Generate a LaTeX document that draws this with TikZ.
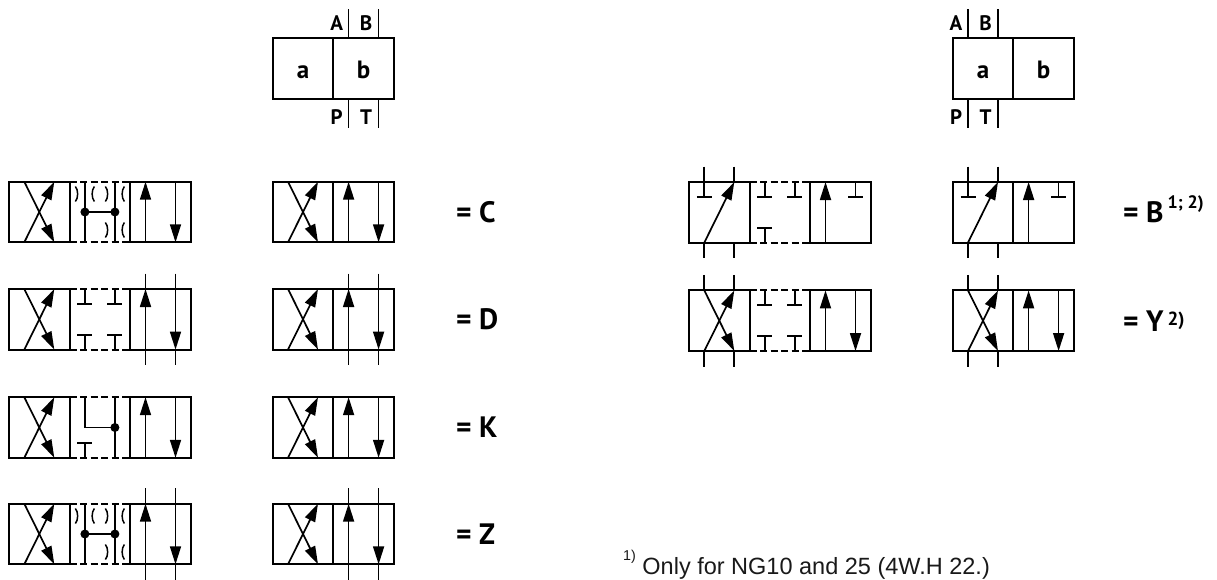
\documentclass[tikz,border=0pt]{standalone}
\usepackage{fontspec}
\setmainfont{PT Sans}
\newfontfamily\notefont{Liberation Sans}
\usetikzlibrary{arrows.meta,positioning}

\begin{document}
\begin{tikzpicture}[x=1pt,y=-1pt,
	cell/.style={draw,line width=2.1pt,minimum width=60.6pt,minimum height=60.6pt,inner sep=0pt,outer sep=0pt},
	gapcell/.style={cell,draw=none},
	cellname/.style={font=\fontsize{25}{25}\selectfont\bfseries,text height=19pt,text depth=0pt},
	dashedge/.style={line width=2.1pt,dash pattern=on 7pt off 3.5pt},
	pipe/.style={line width=1.7pt},
	flow/.style={pipe,-{Triangle[length=18pt,width=11pt]}},
	tag/.style={font=\fontsize{21}{21}\selectfont\bfseries,inner sep=0pt},
	lbl/.style={font=\fontsize{29.5}{29.5}\selectfont\bfseries,inner sep=0pt,anchor=base west},
	note/.style={font=\notefont\fontsize{23.5}{23.5}\selectfont,text=black!90,inner sep=0pt,anchor=base west},
	pics/cross/.style={code={
		\draw[flow] (-15,30.3) -- (15,-30.3);
		\draw[flow] (-15,-30.3) -- (15,30.3);}},
	pics/lanes/.style={code={
		\draw[flow] (-15,30.3) -- (-15,-30.3);
		\draw[flow] (15,-30.3) -- (15,30.3);}},
	pics/slant/.style={code={\draw[flow] (-15,30.3) -- (15,-30.3);}},
	pics/rise/.style={code={\draw[flow] (-15,30.3) -- (-15,-30.3);}},
	pics/stubs/.style={code={
		\draw[pipe] (-15,-45.8) -- (-15,-30.3) (15,-45.8) -- (15,-30.3)
			(-15,30.3) -- (-15,45.8) (15,30.3) -- (15,45.8);}},
	pics/dashes/.style={code={
		\draw[dashedge] (-30.3,-30.3) -- (30.3,-30.3) (-30.3,30.3) -- (30.3,30.3);}},
	pics/plugtop/.style={code={
		\draw[pipe] (#1,-30.3) -- (#1,-15.5) (#1-7.5,-15.5) -- (#1+7.5,-15.5);}},
	pics/plugbot/.style={code={
		\draw[pipe] (#1,30.3) -- (#1,15.5) (#1-7.5,15.5) -- (#1+7.5,15.5);}},
	pics/bridge/.style={code={
		\draw[pipe] (-15,-30.3) -- (-15,30.3) (15,-30.3) -- (15,30.3) (-15,0) -- (15,0);
		\fill (-15,0) circle[radius=4.5] (15,0) circle[radius=4.5];
		\foreach \u/\v in {-15/-18,15/-18,15/18}
			\draw[line width=1.5pt,shift={(\u,\v)}] (-9.5,-7.5) .. controls (-6.5,-4) and (-6.5,4) .. (-9.5,7.5)
				(9.5,-7.5) .. controls (6.5,-4) and (6.5,4) .. (9.5,7.5);}},
	pics/kpath/.style={code={
		\draw[pipe] (-15,-30.3) -- (-15,0) -- (15,0) (15,-30.3) -- (15,30.3);
		\fill (15,0) circle[radius=4.5];}}]
	\useasboundingbox (0,0) rectangle (1217,579);

	% headers
	\node[cell,cellname] (hla) at (303,68.7) {a};
	\node[cell,cellname,right=0pt of hla] (hlb) {b};
	\node[cell,cellname] (hra) at (983,68.7) {a};
	\node[cell,cellname,right=0pt of hra] (hrb) {b};
	\foreach \h in {hlb,hra} {
		\draw[pipe] ([xshift=-15pt]\h.north) -- ++(0,-29.3) ([xshift=15pt]\h.north) -- ++(0,-29.3);
		\draw[pipe] ([xshift=-15pt]\h.south) -- ++(0,29) ([xshift=15pt]\h.south) -- ++(0,29);
		\node[tag] (\h-A) at ([xshift=-27pt,yshift=15.7pt]\h.north) {A};
		\node[tag] (\h-B) at ([xshift=2.5pt,yshift=15.7pt]\h.north) {B};
		\node[tag] (\h-P) at ([xshift=-27pt,yshift=-18pt]\h.south) {P};
		\node[tag] (\h-T) at ([xshift=2.5pt,yshift=-18pt]\h.south) {T};
	}

	% left: 3 and 2 positions
	\foreach \r/\y in {C/212,D/319.3,K/427.5,Z/534} {
		\node[cell] (\r3a) at (39.3,\y) {};
		\node[gapcell,right=0pt of \r3a] (\r30) {};
		\node[cell,right=0pt of \r30] (\r3b) {};
		\node[cell] (\r2a) at (303,\y) {};
		\node[cell,right=0pt of \r2a] (\r2b) {};
		\node[lbl] (eq\r) at (456,\y+10) {= \r};
		\pic at (\r3a) {cross};
		\pic at (\r30) {dashes};
		\pic at (\r3b) {lanes};
		\pic at (\r2a) {cross};
		\pic at (\r2b) {lanes};
	}
	\foreach \r in {C,Z}
		\pic at (\r30) {bridge};
	\pic at (K30) {kpath};
	\pic at (K30) {plugbot=-15};

	% right: 3 and 2 positions
	\foreach \r/\y in {B/212.3,Y/320.7} {
		\node[cell] (\r3a) at (719.3,\y) {};
		\node[gapcell,right=0pt of \r3a] (\r30) {};
		\node[cell,right=0pt of \r30] (\r3b) {};
		\node[cell] (\r2a) at (983,\y) {};
		\node[cell,right=0pt of \r2a] (\r2b) {};
		\pic at (\r30) {dashes};
	}
	\foreach \n in {B3a,B2a} {
		\pic at (\n) {slant};
		\pic at (\n) {plugtop=-15};
	}
	\foreach \n in {B3b,B2b} {
		\pic at (\n) {rise};
		\pic at (\n) {plugtop=15};
	}
	\pic at (B30) {plugtop=-15};
	\pic at (B30) {plugtop=15};
	\pic at (B30) {plugbot=-15};
	\pic at (Y3a) {cross};
	\pic at (Y2a) {cross};
	\pic at (Y3b) {lanes};
	\pic at (Y2b) {lanes};
	\foreach \u in {-15,15} {
		\pic at (D30) {plugtop=\u};
		\pic at (D30) {plugbot=\u};
		\pic at (Y30) {plugtop=\u};
		\pic at (Y30) {plugbot=\u};
	}
	\foreach \n in {D3b,D2b,Z3b,Z2b,B3a,B2a,Y3a,Y2a}
		\pic at (\n) {stubs};

	\node[lbl] (eqB) at (1123,222.3) {= B\hspace{4pt}\raisebox{13.5pt}{\fontsize{18}{18}\selectfont 1; 2)}};
	\node[lbl] (eqY) at (1123,331.5) {= Y\hspace{4pt}\raisebox{6.5pt}{\fontsize{19}{19}\selectfont 2)}};
	\node[note] (fn1) at (623,574) {\raisebox{13.3pt}{\fontsize{14.3}{14.3}\selectfont 1)} Only for NG10 and 25 (4W.H 22.)};
\end{tikzpicture}
\end{document}
